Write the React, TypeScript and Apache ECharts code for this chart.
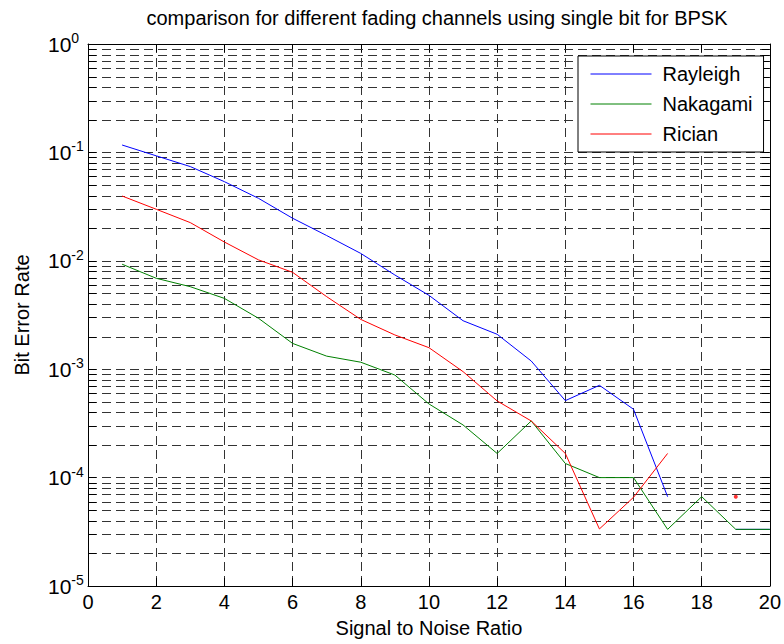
import React, { useEffect, useRef } from "react";
import * as echarts from "echarts";

const snr = [1, 2, 3, 4, 5, 6, 7, 8, 9, 10, 11, 12, 13, 14, 15, 16, 17, 18, 19, 20];
const rayleigh: (number | null)[] = [0.117, 0.093, 0.074, 0.0537, 0.0377, 0.0247, 0.0171, 0.0117, 0.0074, 0.0048, 0.0028, 0.0021, 0.00119, 0.000513, 0.00071, 0.000427, 0.0000667, null, 0.0000333, 0.0000333];
const nakagami: (number | null)[] = [0.0093, 0.0069, 0.00577, 0.0045, 0.00295, 0.00173, 0.00132, 0.00116, 0.000883, 0.000478, 0.000306, 0.000167, 0.000333, 0.000135, 0.0001, 0.0001, 0.0000333, 0.0000667, 0.0000333, 0.0000333];
const rician: (number | null)[] = [0.0396, 0.0299, 0.0225, 0.0149, 0.0102, 0.00783, 0.00467, 0.00288, 0.00207, 0.00158, 0.00095, 0.00051, 0.000333, 0.000167, 0.0000336, 0.0000658, 0.000167, null, 0.0000667, null];
const minorFactors = [2, 3, 4, 5, 6, 7, 8, 9];
const decades = [-5, -4, -3, -2, -1];

const FONT = "'Liberation Sans', Arial, Helvetica, sans-serif";

function toData(vals: (number | null)[]) {
  return snr.map((x, i) => [x, vals[i] == null ? "-" : vals[i]]);
}

function isolated(vals: (number | null)[]) {
  const out: number[][] = [];
  vals.forEach((v, i) => {
    const prev = i > 0 ? vals[i - 1] : null;
    const next = i < vals.length - 1 ? vals[i + 1] : null;
    if (v != null && prev == null && next == null) out.push([snr[i], v]);
  });
  return out;
}

export default function App() {
  const ref = useRef<HTMLDivElement>(null);
  useEffect(() => {
    if (!ref.current) return;
    const chart = echarts.init(ref.current, null, { renderer: "svg" });
    const minorVals: number[][] = [];
    decades.forEach((d) => minorFactors.forEach((f) => minorVals.push([0, f * Math.pow(10, d)])));

    const mkLine = (name: string, vals: (number | null)[], color: string) => ({
      name,
      type: "line",
      data: toData(vals),
      symbol: "none",
      showSymbol: false,
      connectNulls: false,
      lineStyle: { color, width: 1 },
      itemStyle: { color },
      silent: true,
      z: 3,
    });
    const mkDots = (name: string, vals: (number | null)[], color: string) => ({
      name: name + "-pts",
      type: "scatter",
      data: isolated(vals),
      symbol: "circle",
      symbolSize: 4,
      itemStyle: { color },
      silent: true,
      z: 4,
    });

    chart.setOption({
      animation: false,
      backgroundColor: "#fff",
      textStyle: { fontFamily: FONT },
      title: {
        text: "comparison for different fading channels using single bit for BPSK",
        left: 432,
        textAlign: "center",
        top: 3,
        textStyle: { fontFamily: FONT, fontSize: 20, fontWeight: "normal", color: "#000" },
      },
      grid: { left: 88, top: 44, right: 12, bottom: 58, containLabel: false },
      legend: {
        data: ["Rayleigh", "Nakagami", "Rician"],
        orient: "vertical",
        left: 578,
        top: 56,
        itemWidth: 61,
        itemHeight: 14,
        itemGap: 10,
        padding: [8, 11, 8, 12],
        backgroundColor: "#fff",
        borderColor: "#000",
        borderWidth: 1,
        borderRadius: 0,
        itemStyle: { opacity: 0 },
        lineStyle: { width: 1 },
        textStyle: { fontFamily: FONT, fontSize: 20, color: "#000", lineHeight: 20, padding: [0, 0, 0, 6] },
        z: 10,
      },
      xAxis: [
        {
          type: "value",
          min: 0,
          max: 20,
          interval: 2,
          name: "Signal to Noise Ratio",
          nameLocation: "middle",
          nameGap: 32,
          nameTextStyle: { fontFamily: FONT, fontSize: 20, color: "#000" },
          axisLine: { show: true, onZero: false, lineStyle: { color: "#000", width: 1 } },
          axisTick: { show: true, inside: true, length: 8, lineStyle: { color: "#000" } },
          axisLabel: { fontFamily: FONT, fontSize: 20, color: "#000", margin: 6 },
          splitLine: { show: true, lineStyle: { color: "#333", width: 1, type: [9, 5] } },
        },
        {
          type: "value",
          position: "top",
          min: 0,
          max: 20,
          interval: 2,
          axisLine: { show: true, onZero: false, lineStyle: { color: "#000", width: 1 } },
          axisTick: { show: true, inside: true, length: 8, lineStyle: { color: "#000" } },
          axisLabel: { show: false },
          splitLine: { show: false },
        },
      ],
      yAxis: [
        {
          type: "log",
          logBase: 10,
          min: 1e-5,
          max: 1,
          splitNumber: 5,
          name: "Bit Error Rate",
          nameLocation: "middle",
          nameGap: 56,
          nameTextStyle: { fontFamily: FONT, fontSize: 20, color: "#000" },
          axisLine: { show: true, onZero: false, lineStyle: { color: "#000", width: 1 } },
          axisTick: { show: true, inside: true, length: 8, lineStyle: { color: "#000" } },
          axisLabel: {
            align: "left",
            margin: 40,
            formatter: (v: number) => `{b|10}{s|${Math.round(Math.log10(v))}}`,
            rich: {
              b: { fontFamily: FONT, fontSize: 21, color: "#000", lineHeight: 26 },
              s: { fontFamily: FONT, fontSize: 14, color: "#000", lineHeight: 14, verticalAlign: "top" },
            },
          },
          splitLine: { show: true, lineStyle: { color: "#333", width: 1, type: [9, 5] } },
        },
        {
          type: "log",
          logBase: 10,
          position: "right",
          min: 1e-5,
          max: 1,
          splitNumber: 5,
          axisLine: { show: true, onZero: false, lineStyle: { color: "#000", width: 1 } },
          axisTick: { show: true, inside: true, length: 8, lineStyle: { color: "#000" } },
          axisLabel: { show: false },
          splitLine: { show: false },
        },
      ],
      series: [
        {
          type: "custom",
          name: "minorGrid",
          silent: true,
          xAxisIndex: 0,
          yAxisIndex: 0,
          z: 1,
          clip: false,
          data: minorVals,
          renderItem: (params: any, api: any) => {
            const v = api.value(1);
            const p0 = api.coord([0, v]);
            const p1 = api.coord([20, v]);
            const y = Math.round(p0[1]) + 0.5;
            return {
              type: "group",
              children: [
                {
                  type: "line",
                  shape: { x1: p0[0], y1: y, x2: p1[0], y2: y },
                  style: { stroke: "#333", lineWidth: 1, lineDash: [9, 5] },
                },
                {
                  type: "line",
                  shape: { x1: p0[0], y1: y, x2: p0[0] + 8, y2: y },
                  style: { stroke: "#000", lineWidth: 1 },
                },
                {
                  type: "line",
                  shape: { x1: p1[0] - 8, y1: y, x2: p1[0], y2: y },
                  style: { stroke: "#000", lineWidth: 1 },
                },
              ],
            };
          },
        },
        mkLine("Rayleigh", rayleigh, "#0000ff"),
        mkLine("Nakagami", nakagami, "#008000"),
        mkLine("Rician", rician, "#ff0000"),
        mkDots("Rayleigh", rayleigh, "#0000ff"),
        mkDots("Nakagami", nakagami, "#008000"),
        mkDots("Rician", rician, "#ff0000"),
      ],
    });
    return () => chart.dispose();
  }, []);
  return <div ref={ref} style={{ position: "absolute", left: 0, top: 0, width: 784, height: 644 }} />;
}
